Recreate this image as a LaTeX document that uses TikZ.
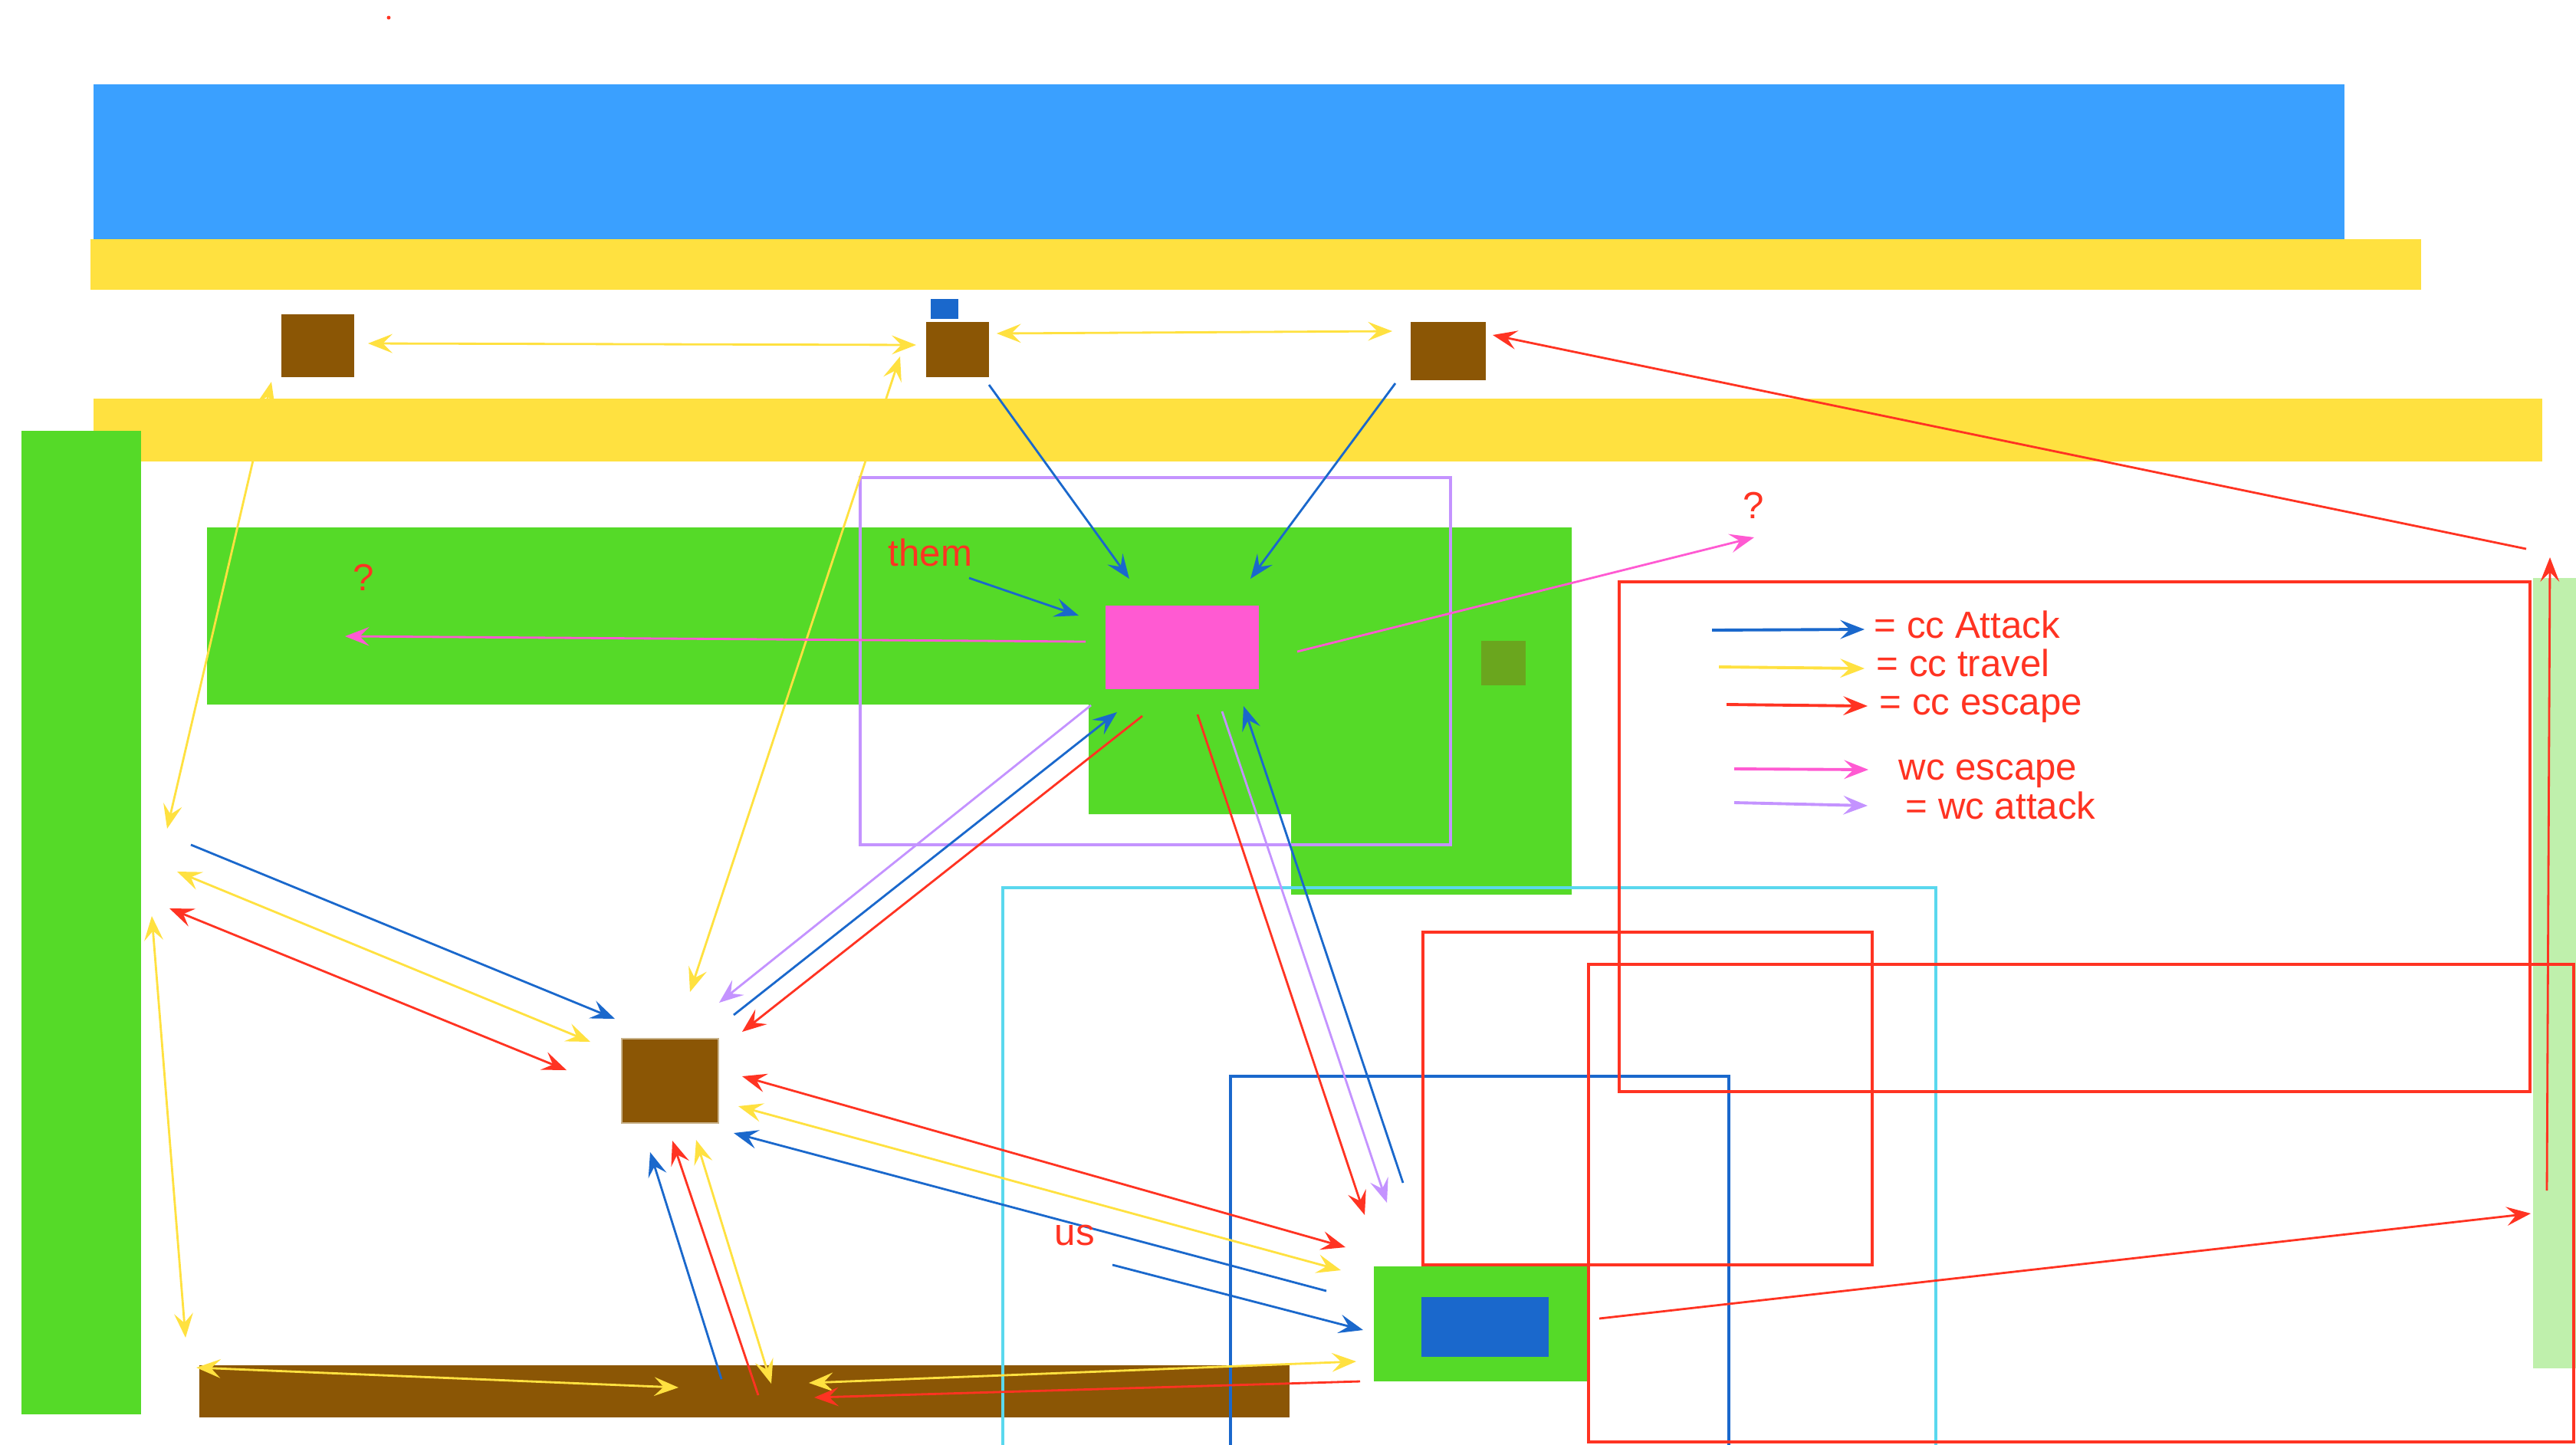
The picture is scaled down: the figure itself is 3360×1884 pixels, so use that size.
\documentclass[tikz,border=0pt]{standalone}
\usepackage{fontspec}
\setmainfont{Liberation Sans}
\usetikzlibrary{arrows.meta}
\definecolor{sky}{RGB}{58,160,255}
\definecolor{sand}{RGB}{255,225,64}
\definecolor{wood}{RGB}{139,86,5}
\definecolor{tanrim}{RGB}{200,178,138}
\definecolor{grass}{RGB}{85,218,40}
\definecolor{moss}{RGB}{106,166,30}
\definecolor{paleleaf}{RGB}{191,240,172}
\definecolor{hotpink}{RGB}{255,90,210}
\definecolor{lilac}{RGB}{196,147,255}
\definecolor{aqua}{RGB}{90,216,238}
\definecolor{ccred}{RGB}{255,51,34}
\definecolor{ccblue}{RGB}{26,104,204}
\begin{document}
\begin{tikzpicture}[x=0.01cm,y=-0.01cm,
  >={Stealth[length=9pt,width=7pt,inset=3.5pt]},
  attack/.style={draw=ccblue,line width=0.8pt,->},
  travel/.style={draw=sand,line width=0.8pt,<->},
  escape/.style={draw=ccred,line width=0.8pt,->},
  wcesc/.style={draw=hotpink,line width=0.8pt,->},
  wcatk/.style={draw=lilac,line width=0.8pt,->},
  zone/.style={line width=1pt},
  lab/.style={text=ccred,font=\fontsize{14}{16}\selectfont,inner sep=0pt,anchor=base west}]
  \clip (0,0) rectangle (3360,1884);
  \fill[white] (0,0) rectangle (3360,1884);
  \fill[ccred] (507,23) circle[radius=0.7pt];

  \fill[sky] (122,110) rectangle (3058,312);
  \fill[sand] (118,312) rectangle (3158,378);
  \fill[sand] (122,520) rectangle (3316,602);
  \fill[wood] (367,410) rectangle (462,492);
  \fill[ccblue] (1214,390) rectangle (1250,416);
  \fill[wood] (1208,420) rectangle (1290,492);
  \fill[wood] (1840,420) rectangle (1938,496);
  \fill[grass] (28,562) rectangle (184,1845);
  \fill[grass] (270,688) -- (2050,688) -- (2050,1167) -- (1684,1167) -- (1684,1062)
    -- (1420,1062) -- (1420,919) -- (270,919) -- cycle;
  \fill[moss] (1932,836) rectangle (1990,894);
  \fill[hotpink] (1442,790) rectangle (1642,899);
  \fill[paleleaf] (3304,754) rectangle (3360,1785);
  \fill[wood] (260,1781) rectangle (1682,1849);
  \filldraw[fill=wood,draw=tanrim,line width=0.6pt] (811,1355) rectangle (937,1465);
  \fill[grass] (1792,1652) rectangle (2072,1802);
  \fill[ccblue] (1854,1692) rectangle (2020,1770);

  \draw[zone,lilac] (1122,623) rectangle (1892,1102);
  \draw[zone,aqua] (1308,1158) rectangle (2525,1900);
  \draw[zone,ccblue] (1605,1404) rectangle (2255,1900);
  \draw[zone,ccred] (2112,759) rectangle (3300,1424);
  \draw[zone,ccred] (1856,1216) rectangle (2442,1650);
  \draw[zone,ccred] (2072,1258) rectangle (3357,1881);

  \foreach \n/\x/\y in {t1/480/448, t2/1195/450, t3/1300/435, t4/1816/432,
      t5/354/498, t6/218/1081, t7/1174/465, t8/900/1294, t9/231/1137, t10/770/1359,
      t11/198/1195, t12/242/1745, t13/256/1784, t14/885/1810, t15/963/1443,
      t16/1749/1657, t17/908/1487, t18/1006/1805, t19/1055/1804, t20/1769/1776}
    \coordinate (\n) at (\x,\y);
  \foreach \n/\x/\y in {a1/1290/502, a2/1473/755, a3/1820/500, a4/1631/755,
      a5/1264/754, a6/1407/803, a7/249/1102, a8/802/1329, a9/957/1324, a10/1457/929,
      a11/1730/1684, a12/957/1478, a13/1451/1650, a14/1778/1735, a15/941/1799,
      a16/848/1503, a17/1830/1543, a18/1622/921}
    \coordinate (\n) at (\x,\y);
  \foreach \n/\x/\y in {e1/3295/716, e2/1947/437, e3/3322/1553, e4/3326/727,
      e5/221/1185, e6/739/1396, e7/1490/934, e8/968/1346, e9/968/1404, e10/1755/1627,
      e11/989/1820, e12/877/1488, e13/1774/1802, e14/1062/1823, e15/2086/1720,
      e16/3301/1583, e17/1562/932, e18/1780/1585}
    \coordinate (\n) at (\x,\y);
  \foreach \n/\x/\y in {p1/1416/837, p2/450/830, p3/1692/850, p4/2288/701,
      w1/1423/920, w2/938/1308, w3/1594/928, w4/1809/1569}
    \coordinate (\n) at (\x,\y);

  \foreach \s/\e in {t1/t2,t3/t4,t5/t6,t7/t8,t9/t10,t11/t12,t13/t14,t15/t16,t17/t18,t19/t20}
    \draw[travel] (\s) -- (\e);
  \foreach \s/\e in {a1/a2,a3/a4,a5/a6,a7/a8,a9/a10,a11/a12,a13/a14,a15/a16,a17/a18}
    \draw[attack] (\s) -- (\e);
  \foreach \s/\e in {e1/e2,e3/e4,e7/e8,e11/e12,e13/e14,e15/e16,e17/e18}
    \draw[escape] (\s) -- (\e);
  \draw[escape,<->] (e5) -- (e6);
  \draw[escape,<->] (e9) -- (e10);
  \draw[wcesc] (p1) -- (p2);
  \draw[wcesc] (p3) -- (p4);
  \draw[wcatk] (w1) -- (w2);
  \draw[wcatk] (w3) -- (w4);

  \node[lab] (them) at (1158,738) {them};
  \node[lab] (us) at (1375,1624) {us};
  \node[lab] (askw) at (460,770) {?};
  \node[lab] (aske) at (2273,676) {?};

  \foreach \n/\x/\y in {k1/2233/822, k2/2432/821, k3/2242/870, k4/2432/872,
      k5/2252/919, k6/2436/921, k7/2262/1003, k8/2437/1004, k9/2262/1047, k10/2436/1051}
    \coordinate (\n) at (\x,\y);
  \draw[attack,line width=1.1pt] (k1) -- (k2);
  \draw[travel,-> ,line width=1.1pt] (k3) -- (k4);
  \draw[escape,line width=1.1pt] (k5) -- (k6);
  \draw[wcesc,line width=1.1pt] (k7) -- (k8);
  \draw[wcatk,line width=1.1pt] (k9) -- (k10);
  \node[lab] (keyatk) at (2444,832) {= cc Attack};
  \node[lab] (keytrv) at (2447,882) {= cc travel};
  \node[lab] (keyesc) at (2451,932) {= cc escape};
  \node[lab] (keywce) at (2476,1017) {wc escape};
  \node[lab] (keywca) at (2485,1068) {= wc attack};
\end{tikzpicture}
\end{document}
